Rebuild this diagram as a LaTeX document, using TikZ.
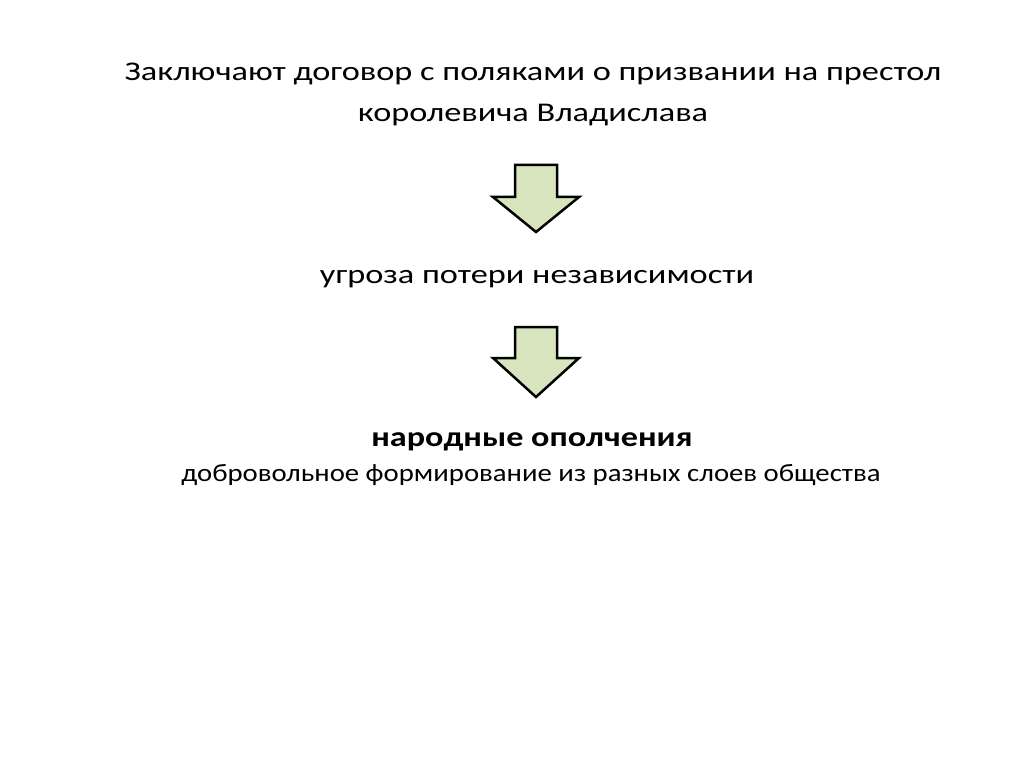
\documentclass[tikz,border=0pt]{standalone}
\usepackage{fontspec}
\setmainfont{Carlito}
\newfontfamily\widefont{Carlito}[FakeStretch=1.27]
\newfontfamily\boldwide{Carlito}[FakeStretch=1.22, UprightFont=*-Bold]
\newfontfamily\descfont{Carlito}[FakeStretch=1.15]
\usepackage{tikz}
\usetikzlibrary{positioning}
\definecolor{arrowfill}{HTML}{D7E4BD}

\begin{document}
\begin{tikzpicture}[x=1pt, y=-1pt,
		txt/.style={align=center, inner sep=0pt, anchor=base, font=\widefont\fontsize{27}{41}\selectfont},
		bigtxt/.style={align=center, inner sep=0pt, anchor=base, font=\boldwide\fontsize{28}{34}\selectfont},
		subtxt/.style={align=center, inner sep=0pt, anchor=base, font=\descfont\fontsize{25}{34}\selectfont},
		blockarrow/.style={draw=black, fill=arrowfill, line width=2.5pt, line join=miter}]
		
		% Rahmen
		\useasboundingbox (0,0) rectangle (1024,767);
		
		% Texte
		\node[txt] (title) at (533,122) {Заключают договор с поляками о призвании на престол\\королевича Владислава};
		\node[txt] (threat) at (537,283) {угроза потери независимости};
		\node[bigtxt] (militia) at (532,446) {народные ополчения};
		\node[subtxt] (militiadesc) at (531,481) {добровольное формирование из разных слоев общества};
		
		% Pfeile
		\coordinate (a1) at (536,165);
		\coordinate (a2) at (536,327);
		\draw[blockarrow] (a1) ++(-21,0) -- ++(0,32) -- ++(-22,0) -- ++(43,35) -- ++(43,-35) -- ++(-22,0) -- ++(0,-32) -- cycle;
		\draw[blockarrow] (a2) ++(-21,0) -- ++(0,31) -- ++(-22,0) -- ++(43,39) -- ++(43,-39) -- ++(-22,0) -- ++(0,-31) -- cycle;
		
	\end{tikzpicture}
\end{document}
